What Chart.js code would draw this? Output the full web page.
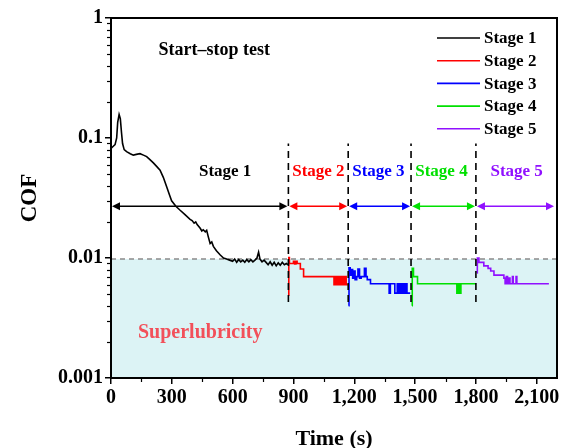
<!DOCTYPE html>
<html>
<head>
<meta charset="utf-8">
<script src="https://cdn.jsdelivr.net/npm/chart.js@4/dist/chart.umd.min.js"></script>
<style>
  html,body{margin:0;padding:0;background:#fff}
  #wrap{width:569px;height:448px}
</style>
</head>
<body>
<div id="wrap"><canvas id="cof" width="569" height="448"></canvas></div>
<script>
const FONT = '"Liberation Serif", "Times New Roman", serif'

// COF vs time, one block per stage
const stage1T   = [0,10,20,28,33,40,46,52,57,65,77,95,110,125,143,160,176,192,209,225,242,258,275,290,299,320,341,365,390,400,410,418,425,440,448,455,465,472,480,489,497,505,520,539,555,570,585,600,610,620,630,640,650,660,670,680,690,700,710,720,728,735,745,755,765,775,785,795,805,815,825,835,845,855,865,873]
const stage1COF = [0.082,0.085,0.088,0.10,0.135,0.157,0.145,0.11,0.09,0.08,0.077,0.074,0.072,0.073,0.074,0.072,0.070,0.066,0.062,0.058,0.054,0.047,0.039,0.033,0.030,0.027,0.025,0.023,0.021,0.0205,0.0195,0.020,0.019,0.0177,0.0168,0.0172,0.0165,0.017,0.015,0.0132,0.0136,0.0125,0.0115,0.0106,0.0100,0.0098,0.0096,0.0094,0.0098,0.0092,0.0097,0.0093,0.0096,0.0092,0.0097,0.0093,0.0097,0.0093,0.0096,0.0100,0.0112,0.0098,0.0093,0.0096,0.0092,0.0088,0.0093,0.0087,0.0092,0.0086,0.0091,0.0087,0.0092,0.0088,0.0090,0.0088]

const stage2T   = [876,877,880,900,906,912,918,934,950,1100,1104,1108,1112,1116,1120,1124,1128,1132,1136,1140,1145,1150,1155,1160,1168]
const stage2COF = [0.0049,0.0101,0.0090,0.0094,0.0089,0.0094,0.0090,0.0081,0.0070,0.0060,0.0070,0.0060,0.0070,0.0060,0.0070,0.0060,0.0070,0.0060,0.0070,0.0060,0.0070,0.0060,0.0070,0.0060,0.0060]

const stage3T   = [1172,1174,1180,1186,1192,1198,1204,1212,1218,1226,1234,1250,1258,1264,1280,1372,1378,1400,1412,1420,1428,1432,1440,1446,1452,1460,1476]
const stage3COF = [0.0040,0.0083,0.0072,0.0080,0.0068,0.0078,0.0066,0.0070,0.0081,0.0068,0.0070,0.0082,0.0070,0.0066,0.0061,0.0051,0.0061,0.0051,0.0061,0.0051,0.0061,0.0051,0.0061,0.0051,0.0061,0.0051,0.0051]

const stage4T   = [1485,1486,1492,1512,1706,1712,1720,1726,1800]
const stage4COF = [0.0040,0.0082,0.0070,0.0061,0.0051,0.0061,0.0051,0.0061,0.0061]

const stage5T   = [1806,1807,1815,1839,1860,1873,1889,1938,1944,1950,1956,1962,1968,1980,1984,1998,2002,2160]
const stage5COF = [0.0075,0.0100,0.0092,0.0086,0.0082,0.0078,0.0072,0.0068,0.0061,0.0070,0.0061,0.0068,0.0061,0.0070,0.0061,0.0070,0.0061,0.0061]

const stageNames  = ['Stage 1','Stage 2','Stage 3','Stage 4','Stage 5']
const stageColors = ['#000000','#ff0000','#0000ff','#00e000','#9010ff']
const stageStart  = [0,875,1170,1480,1800]
const stageEnd    = [875,1170,1480,1800,2200]
const boundaries  = [875,1170,1480,1800]
const boundaryRange = [0.0043,0.09]
const arrowCOF    = 0.027
const stageLabelX = [563,1023,1319,1630,2001]
const stageLabelCOF = 0.052

const superLimit = 0.0098
const xTicks = [0,300,600,900,1200,1500,1800,2100]
const yTicks = [0.001,0.01,0.1,1]

const pts = (t,v) => t.map((x,i)=>({x, y:v[i]}))
const stageT = [stage1T,stage2T,stage3T,stage4T,stage5T]
const stageV = [stage1COF,stage2COF,stage3COF,stage4COF,stage5COF]

const datasets = stageT.map((t,i)=>({
  label: stageNames[i], data: pts(t,stageV[i]),
  borderColor: stageColors[i], borderWidth: 1.6, pointRadius: 0,
  stepped: i>0, tension: 0, order: 1
}))

// superlubricity band under the 0.01 line
datasets.push({
  label:'band', data: pts([0,2200],[superLimit,superLimit]),
  borderColor:'#8a8a8a', borderWidth:1.5, borderDash:[5,4],
  backgroundColor:'#dcf3f5', fill:'start', pointRadius:0, order:5
})
// stage boundaries
boundaries.forEach(b=>datasets.push({
  label:'edge', data: pts([b,b],boundaryRange),
  borderColor:'#000', borderWidth:1.6, borderDash:[7,5], pointRadius:0, order:0
}))

function arrow(ctx,x1,x2,y,color){
  const h=8, w=4
  ctx.strokeStyle=color; ctx.fillStyle=color; ctx.lineWidth=1.5
  ctx.beginPath(); ctx.moveTo(x1+h-1,y); ctx.lineTo(x2-h+1,y); ctx.stroke()
  ctx.beginPath(); ctx.moveTo(x1,y); ctx.lineTo(x1+h,y-w); ctx.lineTo(x1+h,y+w); ctx.closePath(); ctx.fill()
  ctx.beginPath(); ctx.moveTo(x2,y); ctx.lineTo(x2-h,y-w); ctx.lineTo(x2-h,y+w); ctx.closePath(); ctx.fill()
}

const overlay = {
  id:'overlay',
  afterDatasetsDraw(chart){
    const {ctx, chartArea:a, scales:{x,y}} = chart
    ctx.save()
    // stage arrows
    stageStart.forEach((s,i)=>{
      arrow(ctx, x.getPixelForValue(s)+1, Math.min(x.getPixelForValue(stageEnd[i]), a.right-2)-1, y.getPixelForValue(arrowCOF), stageColors[i])
    })
    ctx.textAlign='center'; ctx.textBaseline='middle'
    ctx.font='bold 17px '+FONT
    stageNames.forEach((n,i)=>{
      ctx.fillStyle=stageColors[i]
      ctx.fillText(n, x.getPixelForValue(stageLabelX[i]), y.getPixelForValue(stageLabelCOF))
    })
    ctx.fillStyle='#000'; ctx.font='bold 18px '+FONT
    ctx.fillText('Start\u2013stop test', x.getPixelForValue(509), y.getPixelForValue(0.54))
    ctx.fillStyle='#f2505a'; ctx.font='bold 20px '+FONT
    ctx.fillText('Superlubricity', x.getPixelForValue(440), y.getPixelForValue(0.00237))

    // legend
    ctx.textAlign='left'; ctx.font='bold 17px '+FONT
    stageNames.forEach((n,i)=>{
      const ly = a.top + 20 + i*22.7
      ctx.strokeStyle=stageColors[i]; ctx.lineWidth=1.6
      ctx.beginPath(); ctx.moveTo(a.right-120,ly); ctx.lineTo(a.right-77,ly); ctx.stroke()
      ctx.fillStyle='#000'; ctx.fillText(n, a.right-73, ly+1)
    })

    // minor ticks
    ctx.strokeStyle='#000'; ctx.lineWidth=1.2
    for(let d=0.001; d<1; d*=10){
      for(let k=2;k<10;k++){
        const py=Math.round(y.getPixelForValue(d*k))+0.5
        ctx.beginPath(); ctx.moveTo(a.left-4,py); ctx.lineTo(a.left,py); ctx.stroke()
      }
    }
    for(let t=150;t<2200;t+=300){
      const px=Math.round(x.getPixelForValue(t))+0.5
      ctx.beginPath(); ctx.moveTo(px,a.bottom); ctx.lineTo(px,a.bottom+4); ctx.stroke()
    }
    // frame
    ctx.lineWidth=2
    ctx.strokeRect(a.left,a.top,a.right-a.left,a.bottom-a.top)
    ctx.restore()
  }
}

new Chart(document.getElementById('cof'),{
  type:'line',
  data:{datasets},
  options:{
    responsive:false, animation:false,
    layout:{padding:{top:18,right:12,left:0,bottom:0}},
    plugins:{legend:{display:false},tooltip:{enabled:false}},
    scales:{
      x:{
        type:'linear', min:0, max:2200,
        afterBuildTicks:s=>{ s.ticks = xTicks.map(v=>({value:v})) },
        afterFit:s=>{ s.height=70 },
        grid:{drawOnChartArea:false, tickLength:6, color:'#000', lineWidth:1.5},
        border:{display:false},
        ticks:{color:'#000', padding:2, maxRotation:0, autoSkip:false, font:{family:FONT,size:20,weight:'bold'},
          callback:v=>v.toLocaleString('en-US')},
        title:{display:true, text:'Time (s)', color:'#000', padding:{top:0,bottom:-5}, font:{family:FONT,size:22,weight:'bold'}}
      },
      y:{
        type:'logarithmic', min:0.001, max:1,
        afterBuildTicks:s=>{ s.ticks = yTicks.map(v=>({value:v})) },
        afterFit:s=>{ s.width=111 },
        grid:{drawOnChartArea:false, tickLength:6, color:'#000', lineWidth:1.5},
        border:{display:false},
        ticks:{color:'#000', padding:2, autoSkip:false, font:{family:FONT,size:20,weight:'bold'},
          callback:v=>String(v)},
        title:{display:true, text:'COF', color:'#000', padding:{bottom:0,top:16}, font:{family:FONT,size:23,weight:'bold'}}
      }
    }
  },
  plugins:[overlay]
})
</script>
</body>
</html>
